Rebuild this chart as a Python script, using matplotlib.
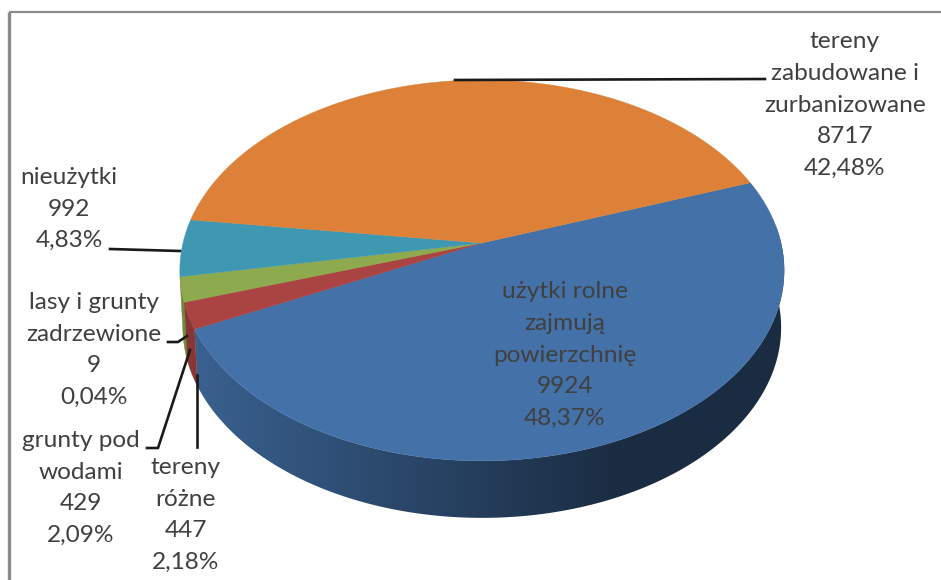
import numpy as np
import matplotlib
matplotlib.use("Agg")
import matplotlib.pyplot as plt
from matplotlib.colors import to_rgb
from matplotlib.patches import Polygon

# Pie data, clockwise from the orange/blue border
names = ["użytki rolne\nzajmują\npowierzchnię", "tereny\nróżne", "lasy i grunty\nzadrzewione",
         "grunty pod\nwodami", "nieużytki", "tereny\nzabudowane i\nzurbanizowane"]
values = [9924, 447, 9, 429, 992, 8717]
percents = ["48,37%", "2,18%", "0,04%", "2,09%", "4,83%", "42,48%"]
colors = ["#4371A8", "#A94442", "#A94442", "#8DAB4E", "#3F98B2", "#DD8138"]

# Where the labels sit, in pixels of the picture
label_x = [565, 186, 94, 81, 69, 845]
label_y = [355, 515, 350, 488, 209, 105]

plt.rcParams["font.family"] = "Lato"

# 3D look: a circle seen in perspective
cx, cy = 482, 243
rx, ry = 299, 186.5
k = 0.144
depth = 57
start = 19.8


def rim(deg, drop=0.0, scale=1.0):
    t = np.radians(deg)
    u, v = np.cos(t), np.sin(t)
    w = 1 + k * v
    return cx + scale * rx * u / w, cy - ry * v / w + drop


fig = plt.figure(figsize=(9.41, 5.8), dpi=100)
ax = fig.add_axes([0, 0, 1, 1])
ax.axis("off")

# frame of the screenshot
ax.plot([9, 9], [580, 12], color="#8a8a8a", lw=2.4, solid_capstyle="butt")
ax.plot([9, 941], [12, 12], color="#8a8a8a", lw=1.6, solid_capstyle="butt")

edges = start - np.cumsum([0] + values) / sum(values) * 360


def wall_outline(a0, a1):
    angs = np.linspace(a0, a1, 300)
    x_top, y_top = rim(angs)
    x_bot, y_bot = rim(angs, depth, 0.99)
    return np.c_[np.r_[x_top, x_bot[::-1]], np.r_[y_top, y_bot[::-1]]]


# blue side wall with a gradient, darker to the right
ramp = np.clip((np.arange(190, 790) - 190) / 430, 0, 1)
shade = 0.86 - 0.47 * ramp
grad = np.array(to_rgb(colors[0]))[None, None, :] * shade[None, :, None]
im = ax.imshow(grad, extent=[190, 790, 530, 200], aspect="auto", zorder=2)
im.set_clip_path(Polygon(wall_outline(5, edges[1]), transform=ax.transData))

# the small slices only show a sliver of side
for i in range(1, 4):
    side = tuple(c * 0.8 for c in to_rgb(colors[i]))
    ax.fill(*wall_outline(edges[i], max(edges[i + 1], -184)).T, color=side, lw=0.3, zorder=2)

# top face
for i, col in enumerate(colors):
    angs = np.linspace(edges[i], edges[i + 1], 200)
    xs, ys = rim(angs)
    ax.fill(np.r_[cx, xs], np.r_[cy, ys], color=col, lw=0.3, zorder=3)

# leader lines
leaders = [([455, 765], [80, 79]),
           ([110, 180], [249, 251]),
           ([168, 178, 187], [342, 342, 336]),
           ([147, 158, 190], [448, 448, 350]),
           ([197, 197], [447, 375])]
for lx, ly in leaders:
    ax.plot(lx, ly, color="#1a1a1a", lw=1.9, zorder=4)

# labels
for name, val, pct, x, y in zip(names, values, percents, label_x, label_y):
    ax.text(x, y, f"{name}\n{val}\n{pct}", ha="center", va="center", fontsize=17.6,
            color="#404040", linespacing=1.62, zorder=5)

ax.set_xlim(0, 941)
ax.set_ylim(580, 0)
fig.savefig("out.png", dpi=100)
